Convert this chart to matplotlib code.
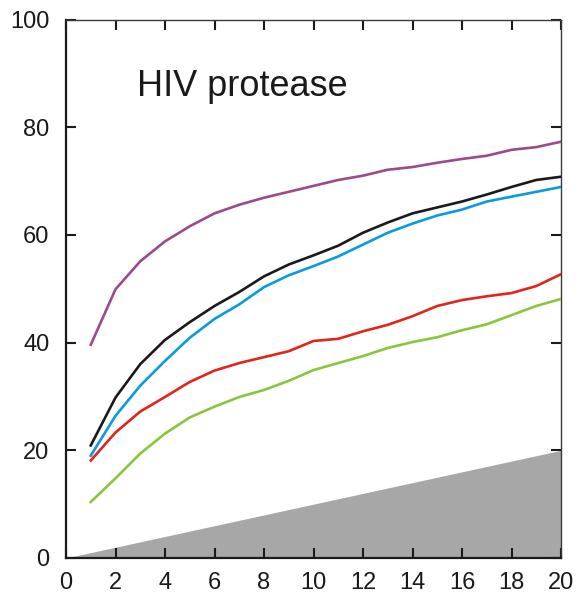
import matplotlib
matplotlib.use("Agg")
import matplotlib.pyplot as plt
import numpy as np

plt.rcParams['font.family'] = ['Liberation Sans', 'DejaVu Sans']

x = list(range(1, 21))
purple = [39.6, 49.9, 55.1, 58.8, 61.6, 64.0, 65.6, 66.9, 68.0, 69.1,
          70.2, 71.0, 72.1, 72.6, 73.4, 74.1, 74.7, 75.8, 76.3, 77.3]
black = [20.9, 29.8, 36.0, 40.5, 43.8, 46.8, 49.4, 52.3, 54.5, 56.2,
         58.0, 60.4, 62.3, 64.0, 65.1, 66.2, 67.5, 68.9, 70.2, 70.8]
blue = [19.0, 26.4, 32.0, 36.6, 40.9, 44.4, 47.1, 50.3, 52.5, 54.2,
        56.0, 58.2, 60.4, 62.1, 63.6, 64.7, 66.2, 67.1, 68.0, 68.9]
red = [18.1, 23.3, 27.2, 29.9, 32.7, 34.8, 36.2, 37.3, 38.4, 40.3,
       40.7, 42.1, 43.3, 44.9, 46.8, 47.9, 48.6, 49.2, 50.5, 52.7]
green = [10.4, 14.8, 19.4, 23.1, 26.1, 28.1, 29.9, 31.2, 32.9, 34.9,
         36.2, 37.5, 39.0, 40.1, 41.0, 42.3, 43.4, 45.1, 46.8, 48.1]

# random-expectation baseline (diagonal wedge)
base_x = [0, 20]
base_y = [0, 20]

series = [
    (purple, '#9B4A8C'),
    (black, '#1A1A1A'),
    (blue, '#0A9BDC'),
    (red, '#E1251B'),
    (green, '#8CC43E'),
]

fig = plt.figure(figsize=(5.84, 6.0), dpi=100)
ax = fig.add_axes([66 / 584, 42 / 600, 495 / 584, 538.5 / 600])

ax.fill_between(base_x, 0, base_y, color='#A7A7A7', linewidth=0, zorder=1)
for vals, col in series:
    ax.plot(x, vals, color=col, linewidth=1.9, zorder=3)

ax.set_xlim(0, 20)
ax.set_ylim(0, 100)
ax.set_xticks(range(0, 21, 2))
ax.set_yticks(range(0, 101, 20))
ax.tick_params(axis='both', direction='in', length=7, width=1.5,
               labelsize=17, colors='#1A1A1A')
ax.tick_params(axis='x', top=True, pad=10)
ax.tick_params(axis='y', right=True, pad=12)

for side in ['left', 'bottom']:
    ax.spines[side].set_linewidth(1.6)
    ax.spines[side].set_color('#1A1A1A')
for side in ['top', 'right']:
    ax.spines[side].set_linewidth(1.0)
    ax.spines[side].set_color('#3A3A3A')

ax.text(2.85, 85.8, 'HIV protease', fontsize=26, color='#1A1A1A',
        ha='left', va='baseline')

fig.savefig('out.png', dpi=100)
